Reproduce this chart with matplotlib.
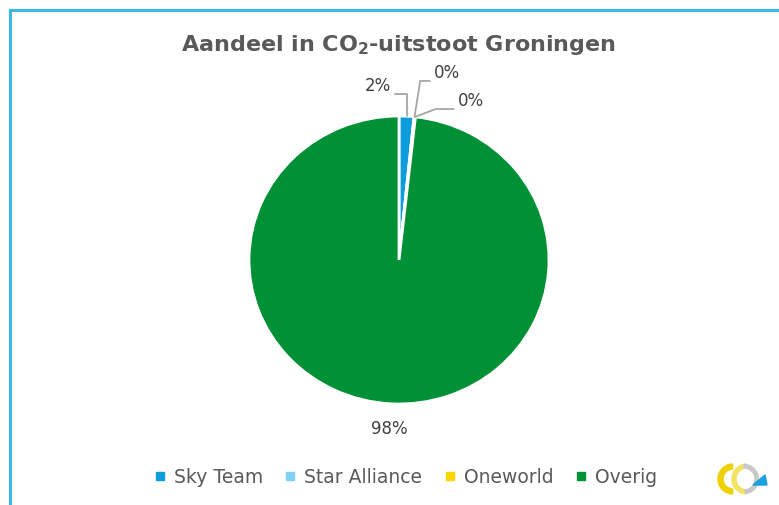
import numpy as np
import matplotlib
matplotlib.use("Agg")
import matplotlib.pyplot as plt
from matplotlib.lines import Line2D
from matplotlib.patches import Wedge, Polygon

plt.rcParams["font.family"] = ["DejaVu Sans"]
plt.rcParams["mathtext.fontset"] = "dejavusans"

W, H = 779, 506

# Shares of CO2 emissions at Groningen airport, by alliance (%)
alliances = ["Sky Team", "Star Alliance", "Oneworld", "Overig"]
shares = [1.6, 0.1, 0.05, 98.25]
colors = ["#0C9DDA", "#7FD1F6", "#FFD400", "#009035"]

TEXT = "#595959"
LABEL = "#404040"
FRAME = "#3DB6EA"

fig = plt.figure(figsize=(W / 100, H / 100), dpi=100)
fig.patch.set_facecolor("white")

# light blue frame, left and top edge only
fig.add_artist(Line2D([10 / W, 10 / W], [0, 1 - 11 / H], color=FRAME, lw=2.2,
                      transform=fig.transFigure))
fig.add_artist(Line2D([10 / W, 1], [1 - 11 / H, 1 - 11 / H], color=FRAME, lw=2.2,
                      transform=fig.transFigure))

# pie: centre (399, 261) px, radius ~150 x 144 px
cx, cy, rx, ry = 399, 261, 150, 144
ax = fig.add_axes([(cx - 1.1 * rx) / W, (H - cy - 1.1 * ry) / H,
                   2.2 * rx / W, 2.2 * ry / H])
wedges, _ = ax.pie(shares, colors=colors, startangle=90, counterclock=False,
                   wedgeprops=dict(edgecolor="white", linewidth=2.0))
ax.set_aspect("auto")
ax.set_xlim(-1.1, 1.1)
ax.set_ylim(-1.1, 1.1)


def mid_point(w, r=1.0):
    ang = np.deg2rad((w.theta1 + w.theta2) / 2)
    return r * np.cos(ang), r * np.sin(ang)


def pct(v):
    return f"{v:.0f}%"


# small slices: labels with leader lines
leader = dict(arrowstyle="-", color="#A6A6A6", lw=1.3, shrinkA=1, shrinkB=0)
label_spots = [
    ((391, H - 95), "right", (1, 0), 90),
    ((434, H - 82), "left", (0, 0), 81),
    ((458, H - 110), "left", (0, 0), 21),
]
for w, v, (xy_txt, ha, rel, angB) in zip(wedges[:3], shares[:3], label_spots):
    ax.annotate(pct(v), xy=mid_point(w), xycoords="data",
                xytext=xy_txt, textcoords="figure pixels",
                ha=ha, va="bottom", fontsize=12, color=LABEL,
                arrowprops=dict(leader, relpos=rel,
                                connectionstyle=f"angle,angleA=0,angleB={angB},rad=0"))

# large slice label outside the pie
ox, oy = mid_point(wedges[3], 1.17)
ax.text(ox, oy, pct(shares[3]), ha="center", va="center", fontsize=12, color=LABEL)

fig.text(398 / W, 1 - 45 / H, r"Aandeel in $\mathbf{CO_2}$-uitstoot Groningen",
         ha="center", va="center", fontsize=16, fontweight="bold", color=TEXT)

handles = [Line2D([], [], marker="s", ls="", markersize=6, color=c) for c in colors]
fig.legend(handles, alliances, loc="center", bbox_to_anchor=(0.5205, 1 - 478 / H),
           ncol=4, frameon=False, fontsize=13.5, labelcolor=TEXT,
           handlelength=0.6, handletextpad=0.45, columnspacing=1.15)

# logo, bottom right
logo = fig.add_axes([716 / W, 1 - 498 / H, 54 / W, 36 / H])
logo.set_xlim(0, 54)
logo.set_ylim(0, 36)
logo.axis("off")
logo.add_patch(Wedge((17, 18), 15, 92, 268, width=5, color="#EFD000"))
logo.add_patch(Wedge((31, 18), 15, 92, 268, width=4, color="#F3E363"))
logo.add_patch(Wedge((28, 18), 14.5, -85, 90, width=3.5, color="#C8C8C8"))
logo.add_patch(Polygon([[37, 12], [51, 12], [49, 22]], closed=True,
                       color="#1AA0E0"))

fig.savefig("out.png", dpi=100, facecolor="white")
